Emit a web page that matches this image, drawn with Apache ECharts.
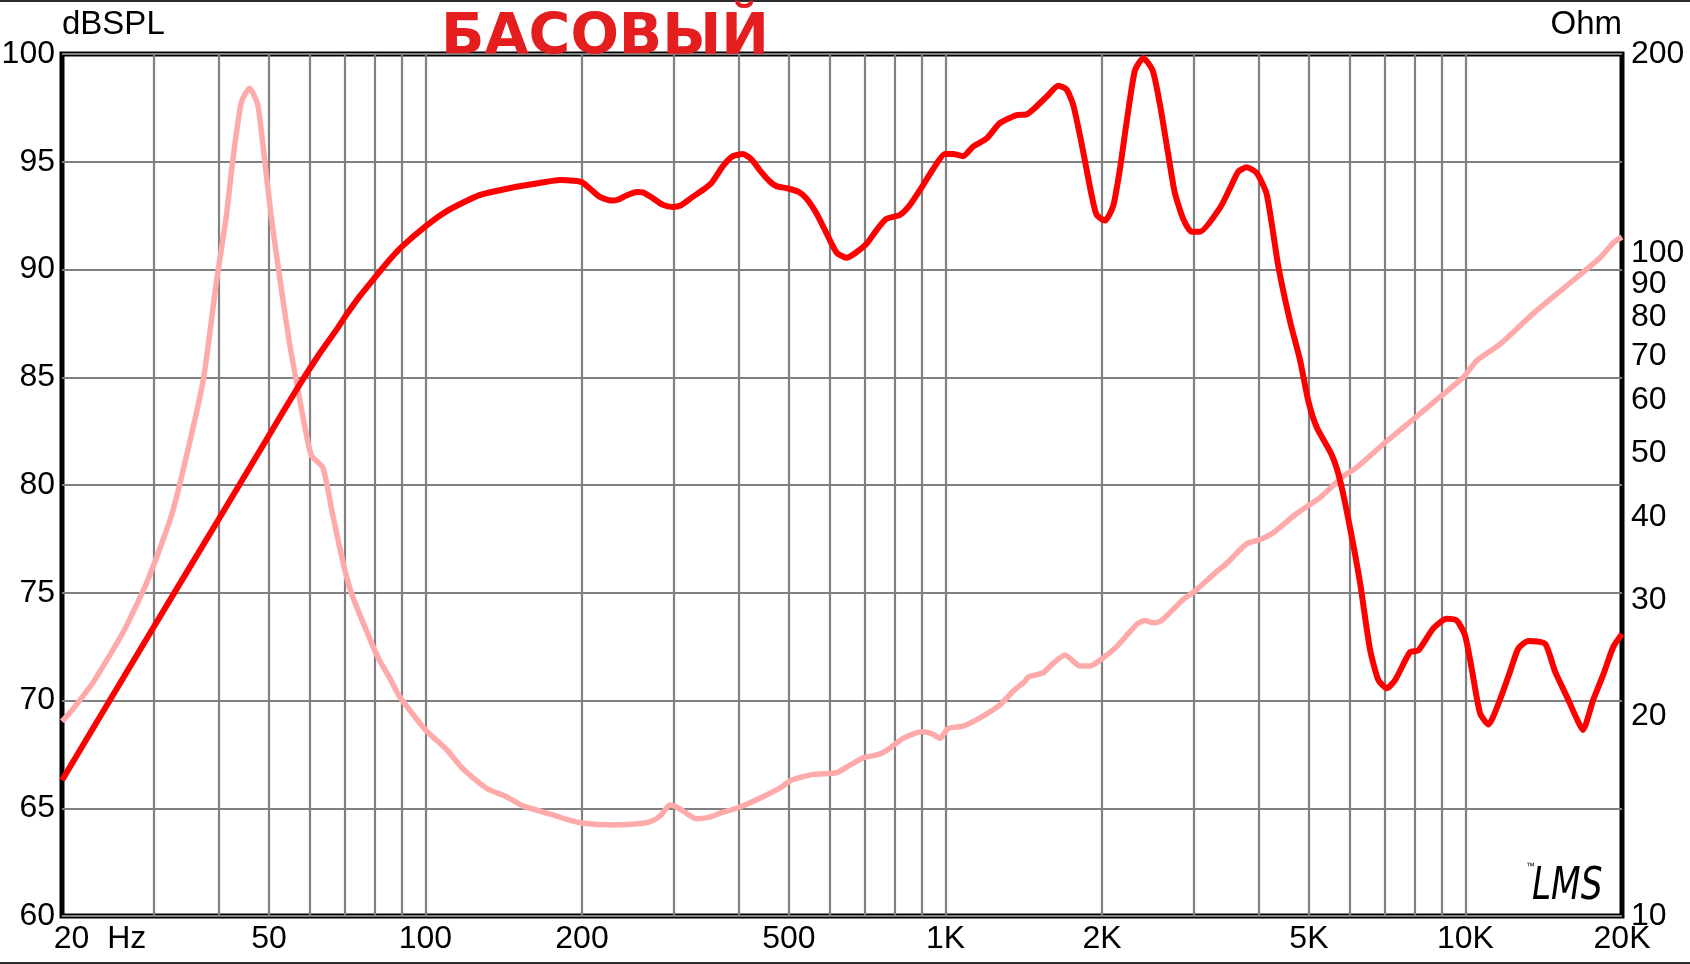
<!DOCTYPE html>
<html><head><meta charset="utf-8">
<script src="https://cdn.jsdelivr.net/npm/echarts@6/dist/echarts.min.js"></script>
<style>html,body{margin:0;padding:0;background:#fff}#c{width:1690px;height:964px}</style>
</head><body><div id="c"></div>
<script>
// SPL (dB) response
const splFreq = [20,30,40,50,56.4,62,67.4,70,74.7,80.4,85.3,90,100,109.7,127,147,171,181,193,200,207,216,228,235,244,255,262,274,286,299,310,327,342,355,373,390,408,424,440,460,473,498,521,540,565,590,617,645,674,705,737,770,817,854,900,947,997,1035,1081,1130,1200,1273,1370,1432,1486,1565,1648,1710,1761,1828,1910,1953,2026,2101,2165,2231,2314,2401,2503,2586,2683,2761,2865,2974,3086,3372,3524,3657,3796,3968,4147,4366,4600,4806,4986,5175,5531,5737,6000,6270,6553,6800,7058,7323,7824,8117,8676,9205,9620,9981,10281,10667,11067,11655,12182,12640,13212,14228,14872,15663,16369,16811,17618,18415,19251,20000];
const splDb = [66.3,73.4,78.4,82.3,84.4,85.95,87.2,87.8,88.75,89.7,90.45,91.05,92.0,92.7,93.45,93.8,94.07,94.15,94.12,94.05,93.76,93.38,93.2,93.25,93.45,93.6,93.58,93.3,93.0,92.9,92.98,93.38,93.7,94.02,94.79,95.26,95.36,95.1,94.59,94.07,93.87,93.76,93.61,93.3,92.6,91.7,90.8,90.54,90.8,91.19,91.83,92.35,92.53,92.99,93.81,94.66,95.36,95.36,95.26,95.7,96.08,96.8,97.16,97.2,97.5,98.02,98.53,98.35,97.63,95.82,93.45,92.53,92.27,92.94,94.66,96.86,99.23,99.82,99.23,97.63,95.31,93.56,92.35,91.75,91.75,92.86,93.76,94.54,94.74,94.48,93.5,90.15,87.58,85.8,83.9,82.68,81.4,80.23,78.0,75.46,72.37,70.95,70.57,70.95,72.24,72.32,73.35,73.79,73.71,73.02,71.47,69.41,68.89,70.05,71.34,72.42,72.76,72.63,71.34,70.18,69.15,68.63,70.05,71.21,72.5,73.09];
// Impedance (Ohm)
const impFreq = [20,20.67,22.93,26.18,29.25,32.68,37.3,39.6,41.4,42.6,44.25,45.9,47.6,48.66,50.5,52.8,54.8,57.3,60.3,63.5,66.4,69.9,72.5,79.3,81.6,85.3,89.2,100,109.7,118,131,143,154,176,187,201,230,262,274,284,295,306,332,352,368,399,446,480,506,557,617,645,695,737,770,829,900,947,976,1012,1081,1181,1273,1350,1421,1443,1541,1612,1697,1815,1897,2011,2134,2332,2418,2509,2603,2865,3017,3323,3474,3796,4027,4269,4736,5252,5822,6179,6951,7486,8058,8936,9908,10513,11655,13512,15663,18151,19251,20000];
const impOhm = [19.66,20.23,22.5,26.76,32.15,40.9,63.8,90.3,113.8,138.1,169.1,177.5,167.5,146.3,113.8,88.6,73.0,60.2,49.6,47.5,40.1,33.4,30.3,25.5,24.3,22.9,21.43,19.1,17.85,16.68,15.59,15.14,14.66,14.21,13.99,13.8,13.72,13.8,13.94,14.21,14.71,14.57,14.02,14.1,14.29,14.57,15.14,15.59,16.04,16.36,16.45,16.77,17.33,17.5,17.77,18.54,18.97,18.8,18.54,19.19,19.34,20.03,20.82,21.85,22.6,22.95,23.29,24.07,24.77,23.84,23.84,24.54,25.5,27.55,27.92,27.7,27.92,30.04,30.93,33.1,34.06,36.45,37.0,37.88,40.5,42.8,46.11,47.55,51.55,54.1,56.78,60.77,65.03,68.9,72.98,81.2,89.4,98.5,103.8,105.8];

const xTickValues = [20,50,100,200,500,1000,2000,5000,10000,20000];
const xTickLabels = ['20  Hz','50','100','200','500','1K','2K','5K','10K','20K'];
const xGridValues = [30,40,50,60,70,80,90,100,200,300,400,500,600,700,800,900,1000,2000,3000,4000,5000,6000,7000,8000,9000,10000];
const ohmTickValues = [10,20,30,40,50,60,70,80,90,100,200];

const FONT = "'Liberation Sans', Arial, sans-serif";
const chart = echarts.init(document.getElementById('c'), null, {renderer: 'canvas'});

const labelMap = {};
xTickValues.forEach((v, i) => { labelMap[v] = xTickLabels[i]; });

chart.setOption({
  backgroundColor: '#fff',
  animation: false,
  title: {
    text: 'БАСОВЫЙ', left: 436, top: 6,
    textStyle: {color: '#e41e1e', fontSize: 57, fontWeight: 'bold', fontFamily: "'DejaVu Sans', sans-serif"}
  },
  grid: {left: 62, right: 68, top: 54, bottom: 48, show: true, borderColor: '#000', borderWidth: 5, backgroundColor: 'transparent', containLabel: false, outerBoundsMode: 'none'},
  xAxis: {
    type: 'log', logBase: 10, min: 20, max: 20000,
    axisLine: {show: false},
    axisTick: {show: false, customValues: xGridValues},
    splitLine: {show: true, lineStyle: {color: '#808080', width: 2.2}},
    minorSplitLine: {show: false},
    axisLabel: {
      customValues: xTickValues, margin: 7, color: '#000', fontSize: 32, fontFamily: FONT,
      formatter: v => v === 20 ? '{hz|' + labelMap[v] + '}' : (labelMap[v] || ''),
      rich: {hz: {fontSize: 32, fontFamily: FONT, color: '#000', padding: [0, 0, 0, 76]}}
    }
  },
  yAxis: [
    {
      type: 'value', min: 60, max: 100, interval: 5,
      name: 'dBSPL', nameLocation: 'end', nameGap: 13,
      nameTextStyle: {fontSize: 33, color: '#000', fontFamily: FONT, align: 'left', verticalAlign: 'bottom'},
      axisLine: {show: false}, axisTick: {show: false},
      splitLine: {show: true, lineStyle: {color: '#808080', width: 2.2}},
      axisLabel: {margin: 7, color: '#000', fontSize: 32, fontFamily: FONT, padding: [0, 0, 6, 0]}
    },
    {
      type: 'log', logBase: 10, min: 10, max: 200, position: 'right',
      name: 'Ohm', nameLocation: 'end', nameGap: 13,
      nameTextStyle: {fontSize: 33, color: '#000', fontFamily: FONT, align: 'right', verticalAlign: 'bottom'},
      axisLine: {show: false}, axisTick: {show: false}, splitLine: {show: false},
      axisLabel: {customValues: ohmTickValues, margin: 9, color: '#000', fontSize: 32, fontFamily: FONT, padding: [0, 0, 6, 0], hideOverlap: false}
    }
  ],
  graphic: [
    {type: 'rect', shape: {x: 0, y: 0, width: 1690, height: 2}, style: {fill: '#2b2b2b'}, silent: true},
    {type: 'rect', shape: {x: 0, y: 962, width: 1690, height: 2}, style: {fill: '#2b2b2b'}, silent: true},
    {type: 'text', x: 1532, y: 866, scaleX: 0.78, style: {text: 'LMS', fontSize: 44, fontStyle: 'italic', fontFamily: "'DejaVu Sans', sans-serif", fill: '#000'}, silent: true, z: 10},
    {type: 'text', x: 1526, y: 862, style: {text: '™', fontSize: 9, fontFamily: FONT, fill: '#000'}, silent: true, z: 10}
  ],
  series: [
    {
      name: 'Impedance', type: 'line', xAxisIndex: 0, yAxisIndex: 1,
      data: impFreq.map((f, i) => [f, impOhm[i]]),
      showSymbol: false, smooth: 0.2, z: 3,
      lineStyle: {color: '#ffaaaa', width: 5.5, join: 'round'}
    },
    {
      name: 'SPL', type: 'line', xAxisIndex: 0, yAxisIndex: 0,
      data: splFreq.map((f, i) => [f, splDb[i]]),
      showSymbol: false, smooth: 0.2, z: 4,
      lineStyle: {color: '#ff0000', width: 6, join: 'round'}
    }
  ]
});
</script></body></html>
